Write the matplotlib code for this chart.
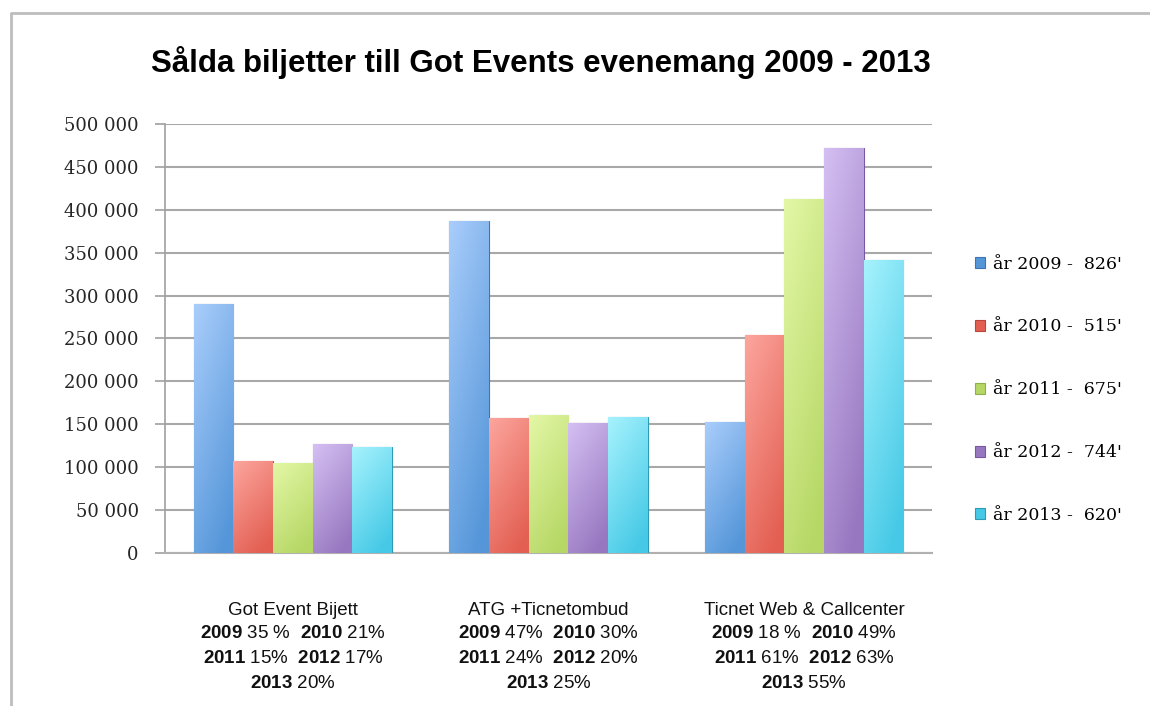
import numpy as np
import matplotlib
matplotlib.use("Agg")
from matplotlib import pyplot as plt
from matplotlib.lines import Line2D
from matplotlib.colors import to_rgb

# data
categories = ['Got Event Bijett', 'ATG +Ticnetombud', 'Ticnet Web & Callcenter']
years = ['2009', '2010', '2011', '2012', '2013']
totals = ["826'", "515'", "675'", "744'", "620'"]
v2009 = [290000, 387000, 153000]
v2010 = [107000, 157000, 254000]
v2011 = [105000, 161000, 412000]
v2012 = [127000, 151000, 472000]
v2013 = [123000, 158000, 341000]
series = [v2009, v2010, v2011, v2012, v2013]
shares = [
    ['35 %', '21%', '15%', '17%', '20%'],
    ['47%', '30%', '24%', '20%', '25%'],
    ['18 %', '49%', '61%', '63%', '55%'],
]
yticks = [0, 50000, 100000, 150000, 200000, 250000, 300000, 350000, 400000, 450000, 500000]

# light (top/left) and dark colour per series
light = ['#a9cdfb', '#fca59d', '#e3f7a6', '#d4bff2', '#a6f2fd']
dark = ['#5596d9', '#e35f52', '#b6d765', '#9777c0', '#45c9e6']
edge = ['#3f74b0', '#b9463d', '#8fae4d', '#7659a0', '#2e9bb5']

plt.rcParams['mathtext.fontset'] = 'custom'
plt.rcParams['mathtext.rm'] = 'Liberation Sans'
plt.rcParams['mathtext.bf'] = 'Liberation Sans:bold'

fig = plt.figure(figsize=(11.5, 7.06), dpi=100)
ax = fig.add_axes([0.1435, 0.2167, 0.6669, 0.6077])

x = np.arange(len(categories))
w = 0.155
for i, vals in enumerate(series):
    bars = ax.bar(x + (i - 2) * w, vals, w, color=dark[i], edgecolor=edge[i],
                  linewidth=0.8, zorder=3, label='år ' + years[i] + ' -  ' + totals[i])
    c1 = np.array(to_rgb(light[i]))
    c2 = np.array(to_rgb(dark[i]))
    for b in bars:
        bx, bw, bh = b.get_x(), b.get_width(), b.get_height()
        ty = np.linspace(0, 1, 60)[:, None]
        tx = np.linspace(0, 1, 20)[None, :]
        t = np.clip(0.75 * ty + 0.35 * tx, 0, 1)
        img = c1[None, None, :] * (1 - t[..., None]) + c2[None, None, :] * t[..., None]
        im = ax.imshow(img, extent=[bx, bx + bw, 0, bh], aspect='auto',
                       origin='upper', zorder=3.5, interpolation='bilinear')
        im.set_clip_path(b)

ax.set_xlim(-0.5, 2.5)
ax.set_ylim(0, 500000)
ax.set_yticks(yticks)
ax.set_yticklabels([f'{v:,}'.replace(',', ' ') for v in yticks],
                   family='DejaVu Serif', fontsize=13, color='#262626')
ax.set_xticks([])
ax.tick_params(axis='y', length=7, width=1.2, color='#a0a0a0', pad=12)
ax.yaxis.grid(True, color='#a8a8a8', linewidth=1.5, zorder=0)
ax.set_axisbelow(True)
for s in ['top', 'right']:
    ax.spines[s].set_visible(False)
ax.spines['left'].set_color('#a0a0a0')
ax.spines['bottom'].set_color('#b0b0b0')
ax.spines['left'].set_linewidth(1.2)
ax.spines['bottom'].set_linewidth(1.5)

# category labels with shares underneath
tr = ax.get_xaxis_transform()
lab = dict(transform=tr, ha='center', va='center', fontsize=13.5,
           family='Liberation Sans', color='#111111')
for k, name in enumerate(categories):
    s = shares[k]
    ax.text(k, -0.133, name, **lab)
    ax.text(k, -0.188, r'$\mathbf{2009}$ ' + s[0] + r'  $\mathbf{2010}$ ' + s[1], **lab)
    ax.text(k, -0.245, r'$\mathbf{2011}$ ' + s[2] + r'  $\mathbf{2012}$ ' + s[3], **lab)
    ax.text(k, -0.304, r'$\mathbf{2013}$ ' + s[4], **lab)

fig.text(0.47, 0.912, 'Sålda biljetter till Got Events evenemang 2009 - 2013',
         ha='center', va='center', fontsize=22.5, fontweight='bold',
         family='Liberation Sans')

leg = ax.legend(loc='upper left', bbox_to_anchor=(0.834, 0.66),
                bbox_transform=fig.transFigure, frameon=False,
                prop={'family': 'DejaVu Serif', 'size': 12.5},
                handlelength=0.6, handleheight=0.6, handletextpad=0.45,
                labelspacing=2.64)

# outer chart border (cut at right and bottom)
fig.add_artist(Line2D([11 / 1150, 11 / 1150, 1.0], [0.0, 1 - 13 / 706, 1 - 13 / 706],
                      transform=fig.transFigure, color='#bdbdbd', linewidth=2))

fig.savefig('out.png', dpi=100)
